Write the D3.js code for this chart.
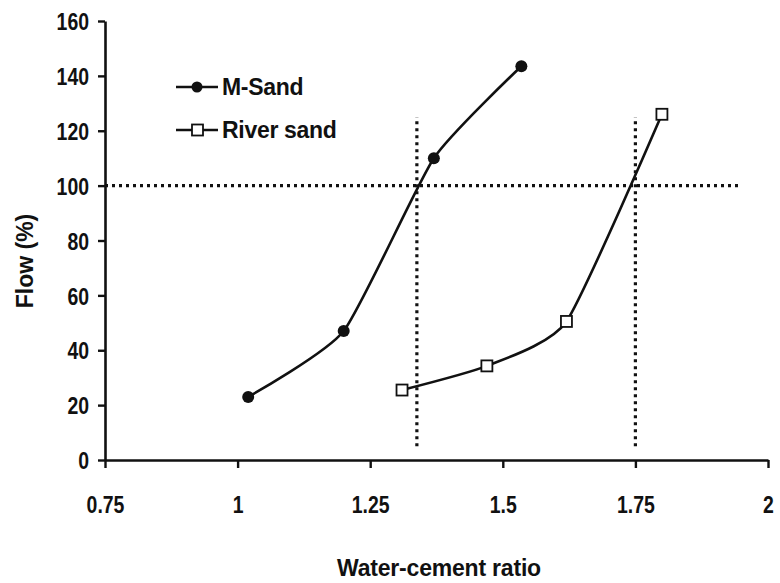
<!DOCTYPE html>
<html>
<head>
<meta charset="utf-8">
<script src="https://cdn.jsdelivr.net/npm/d3@7"></script>
<style>
  html, body { margin: 0; padding: 0; background: #fff; }
  svg { display: block; }
</style>
</head>
<body>
<script>
// ---- Data ----
const mSandX = [1.02, 1.20, 1.37, 1.535];
const mSandY = [23, 47, 110, 143.5];
const riverX = [1.31, 1.47, 1.62, 1.80];
const riverY = [25.5, 34.3, 50.5, 126];
const seriesNames = ["M-Sand", "River sand"];
const xTicks = [0.75, 1, 1.25, 1.5, 1.75, 2];
const xTickLabels = ["0.75", "1", "1.25", "1.5", "1.75", "2"];
const yTicks = [0, 20, 40, 60, 80, 100, 120, 140, 160];
const refFlow = [100];
const refRatios = [1.338, 1.75];
const refRange = [5, 125];

const W = 780, H = 583;
const svg = d3.select("body").append("svg").attr("width", W).attr("height", H);

const x = d3.scaleLinear().domain([0.75, 2]).range([105, 768]);
const y = d3.scaleLinear().domain([0, 160]).range([460, 21]);

const mainFont = "'Liberation Sans', Arial, Helvetica, sans-serif";
const squeeze = 0.81;

// Axes
const xAxis = svg.append("g").attr("transform", `translate(0,${y(0)})`)
  .call(d3.axisBottom(x).tickValues(xTicks).tickFormat((d, i) => xTickLabels[i]).tickSize(8).tickSizeOuter(0).tickPadding(28));
const yAxis = svg.append("g").attr("transform", `translate(${x(0.75)},0)`)
  .call(d3.axisLeft(y).tickValues(yTicks).tickSize(7).tickSizeOuter(0).tickPadding(9));

[xAxis, yAxis].forEach(a => {
  a.select(".domain").attr("stroke", "#111").attr("stroke-width", 2.6);
  a.selectAll(".tick line").attr("stroke", "#111").attr("stroke-width", 2.4);
  a.selectAll(".tick text").attr("fill", "#111").style("font-family", mainFont)
    .style("font-weight", "bold").style("font-size", "24px")
    .attr("transform", `scale(${squeeze},1)`);
});
yAxis.selectAll(".tick text").attr("dy", "0.36em").attr("x", -16 / squeeze);

// Reference dotted lines
const dotStyle = sel => sel.attr("stroke", "#111").attr("stroke-width", 3.2).attr("stroke-dasharray", "3,4").attr("fill", "none");
svg.append("line").attr("x1", x(0.75)).attr("x2", 740).attr("y1", y(refFlow[0])).attr("y2", y(refFlow[0])).call(dotStyle);
refRatios.forEach(r => {
  svg.append("line").attr("x1", x(r)).attr("x2", x(r)).attr("y1", y(refRange[0])).attr("y2", y(refRange[1])).call(dotStyle);
});

// Lines
const line = d3.line().x(d => x(d[0])).y(d => y(d[1])).curve(d3.curveCardinal.tension(0.45));
const mData = mSandX.map((v, i) => [v, mSandY[i]]);
const rData = riverX.map((v, i) => [v, riverY[i]]);

svg.append("path").datum(mData).attr("d", line).attr("fill", "none").attr("stroke", "#111").attr("stroke-width", 2.6);
svg.append("path").datum(rData).attr("d", line).attr("fill", "none").attr("stroke", "#111").attr("stroke-width", 2.6);

svg.selectAll("circle.m").data(mData).enter().append("circle")
  .attr("cx", d => x(d[0])).attr("cy", d => y(d[1])).attr("r", 6).attr("fill", "#111");
svg.selectAll("rect.r").data(rData).enter().append("rect")
  .attr("x", d => x(d[0]) - 5.5).attr("y", d => y(d[1]) - 5.5).attr("width", 11).attr("height", 11)
  .attr("fill", "#fff").attr("stroke", "#111").attr("stroke-width", 1.8);

// Legend
const legY = [87, 130];
seriesNames.forEach((name, i) => {
  const g = svg.append("g");
  g.append("line").attr("x1", 176).attr("x2", 218).attr("y1", legY[i]).attr("y2", legY[i])
    .attr("stroke", "#111").attr("stroke-width", 2.6);
  if (i === 0) g.append("circle").attr("cx", 197).attr("cy", legY[i]).attr("r", 5.5).attr("fill", "#111");
  else g.append("rect").attr("x", 192).attr("y", legY[i] - 5.5).attr("width", 11).attr("height", 11)
    .attr("fill", "#fff").attr("stroke", "#111").attr("stroke-width", 1.8);
  g.append("text").attr("x", 222).attr("y", legY[i]).attr("dy", "0.36em").text(name)
    .style("font-family", mainFont).style("font-weight", "bold").style("font-size", "23px")
    .style("letter-spacing", "-0.3px").attr("fill", "#111");
});

// Axis titles
svg.append("text").attr("x", 439).attr("y", 576).attr("text-anchor", "middle").text("Water-cement ratio")
  .style("font-family", mainFont).style("font-weight", "bold").style("font-size", "23px")
  .style("letter-spacing", "-0.2px").attr("fill", "#111");
svg.append("text").attr("transform", "translate(33,261) rotate(-90)").attr("text-anchor", "middle").text("Flow (%)")
  .style("font-family", mainFont).style("font-weight", "bold").style("font-size", "23px")
  .attr("fill", "#111");
</script>
</body>
</html>
